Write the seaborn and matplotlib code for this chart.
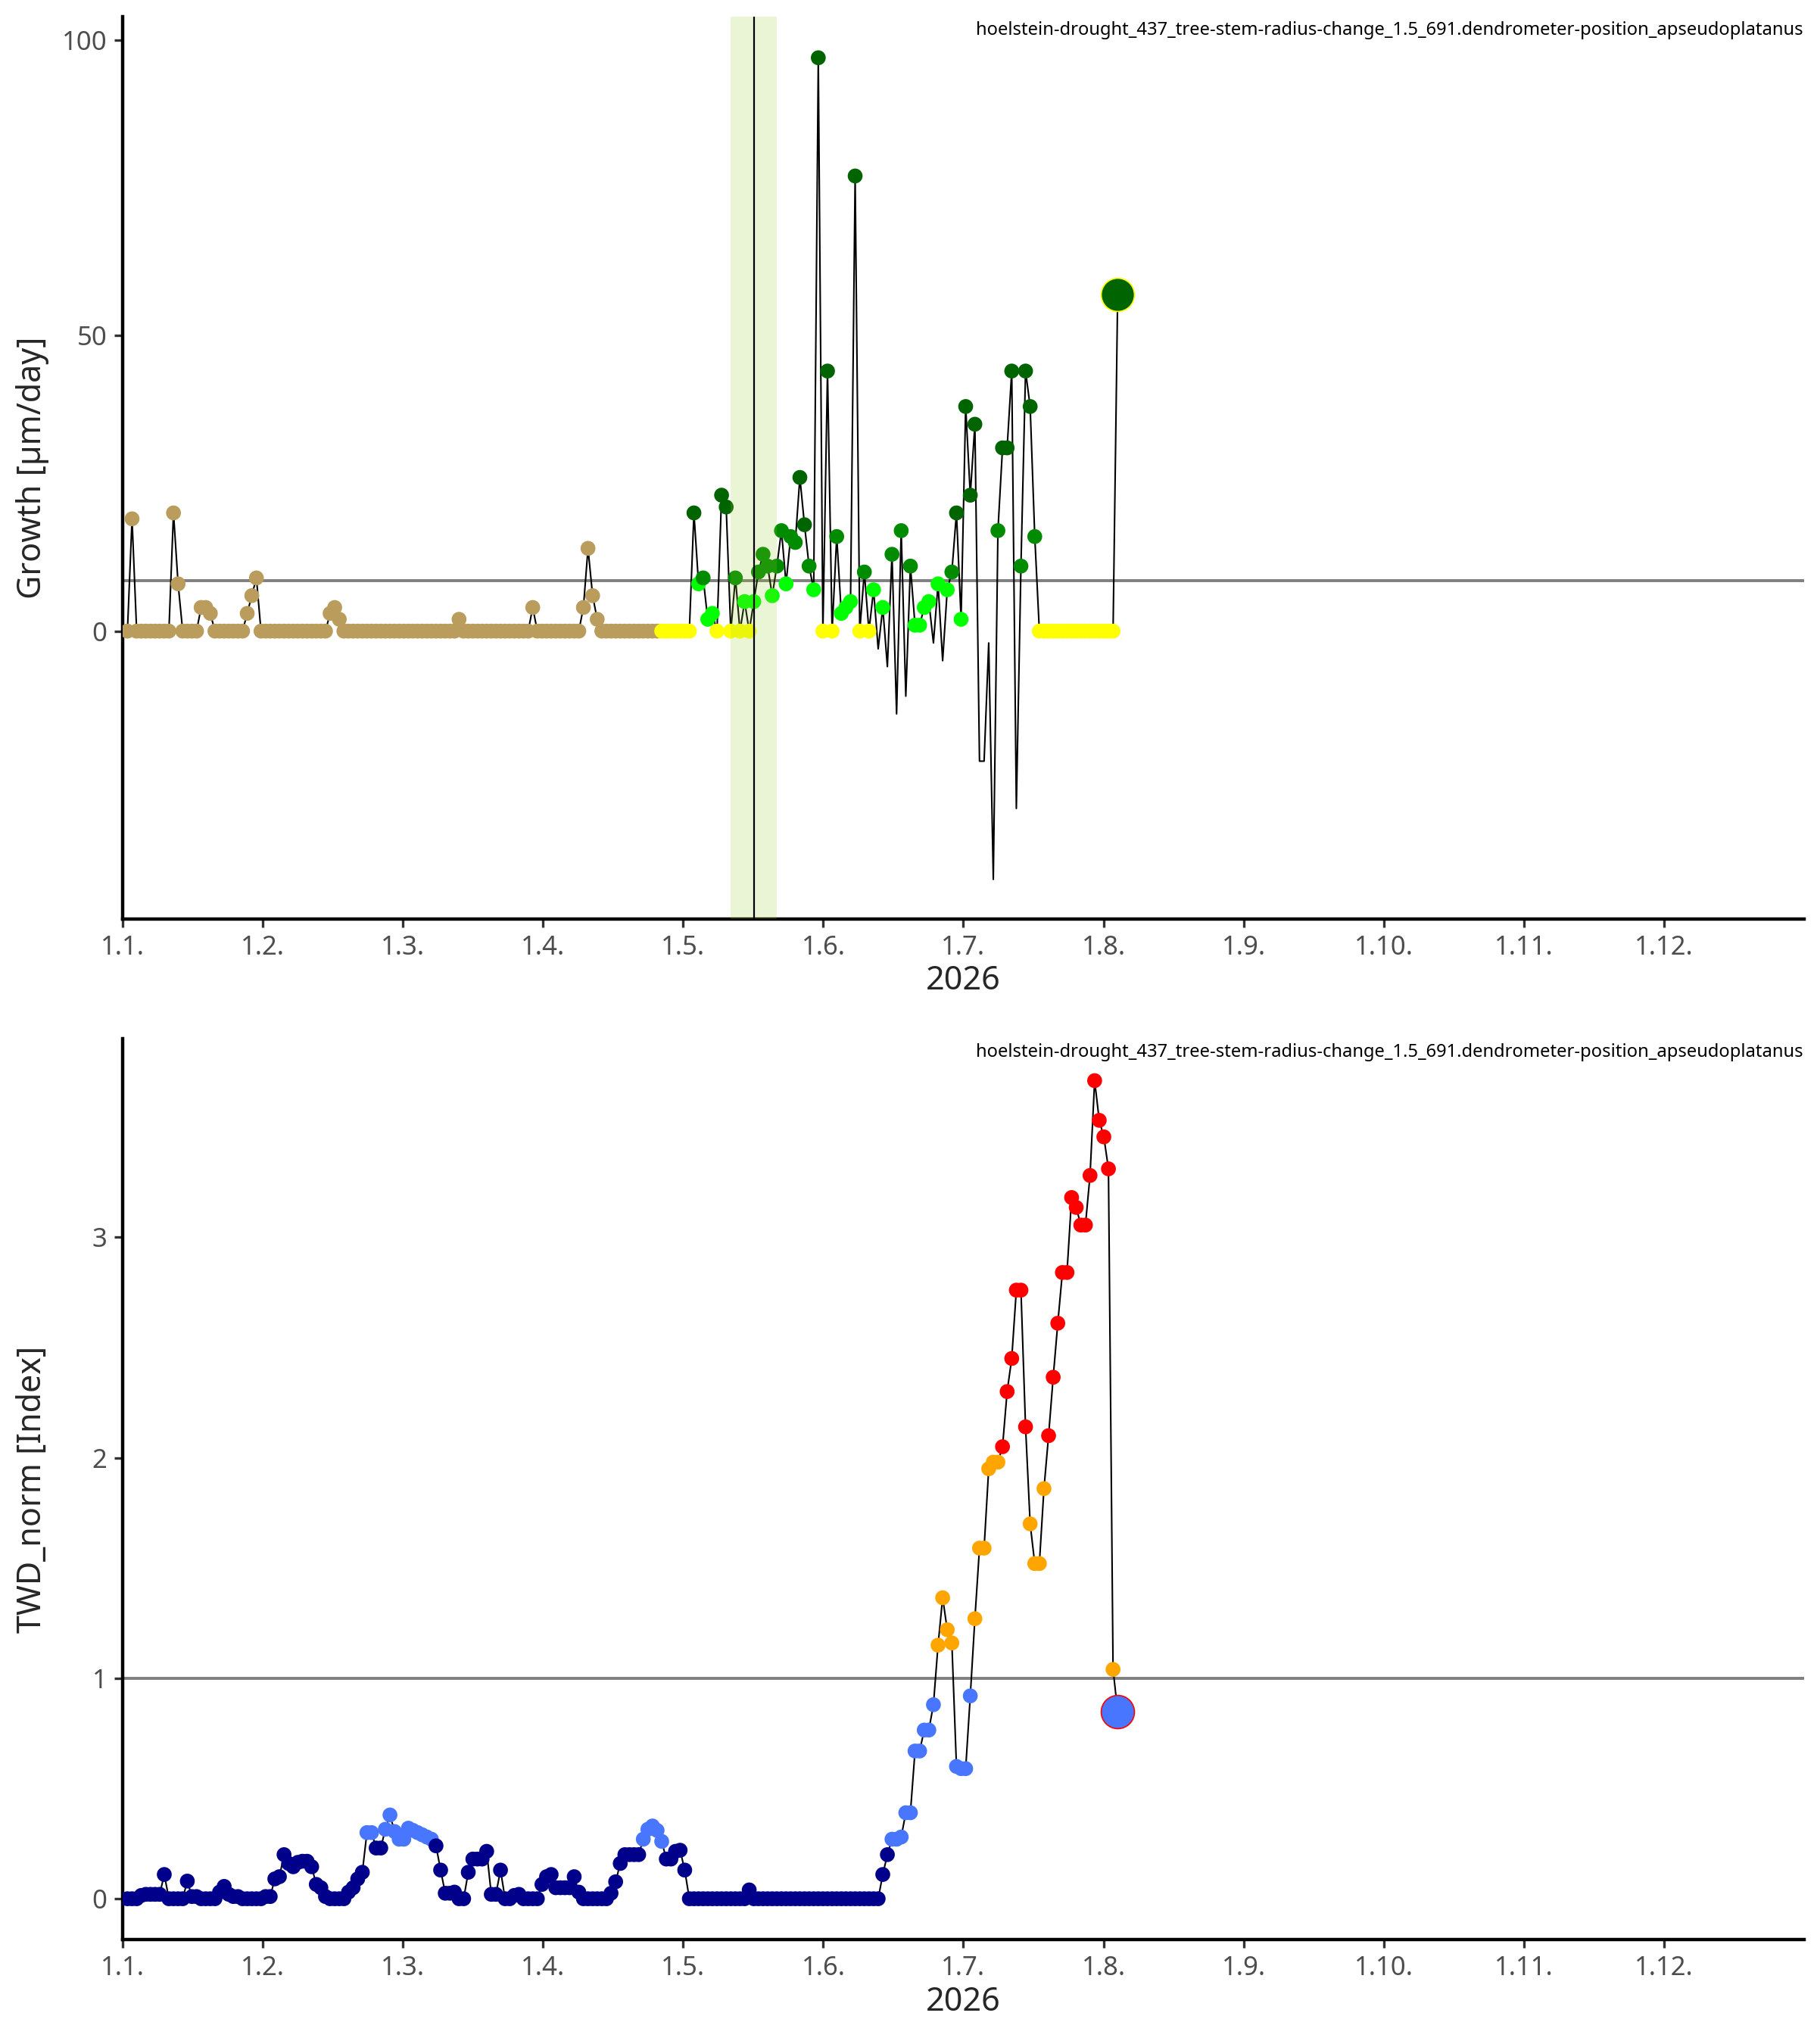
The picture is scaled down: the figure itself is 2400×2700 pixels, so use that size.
import numpy as np
import pandas as pd
import seaborn as sns
import matplotlib.pyplot as plt

sns.set_style("ticks")
plt.rcParams['font.family'] = ['Noto Sans', 'DejaVu Sans']

sensor = "hoelstein-drought_437_tree-stem-radius-change_1.5_691.dendrometer-position_apseudoplatanus"
dates = pd.date_range("2026-01-01", "2026-08-04", freq="D")

# daily growth in um/day
growth = [
    0, 19, 0, 0, 0, 0, 0, 0, 0, 0, 20, 8, 0, 0, 0, 0, 4, 4, 3, 0, 0, 0, 0, 0, 0, 0, 3, 6, 9, 0,
    0, 0, 0, 0, 0, 0, 0, 0, 0, 0, 0, 0, 0, 0, 3, 4, 2, 0, 0, 0, 0, 0, 0, 0, 0, 0, 0, 0, 0, 0,
    0, 0, 0, 0, 0, 0, 0, 0, 0, 0, 0, 0, 2, 0, 0, 0, 0, 0, 0, 0, 0, 0, 0, 0, 0, 0, 0, 0, 4, 0,
    0, 0, 0, 0, 0, 0, 0, 0, 0, 4, 14, 6, 2, 0, 0, 0, 0, 0, 0, 0, 0, 0, 0, 0, 0, 0, 0, 0, 0, 0,
    0, 0, 0, 20, 8, 9, 2, 3, 0, 23, 21, 0, 9, 0, 5, 0, 5, 10, 13, 11, 6, 11, 17, 8, 16, 15, 26, 18, 11, 7,
    97, 0, 44, 0, 16, 3, 4, 5, 77, 0, 10, 0, 7, -3, 4, -6, 13, -14, 17, -11, 11, 1, 1, 4, 5, -2, 8, -5, 7, 10,
    20, 2, 38, 23, 35, -22, -22, -2, -42, 17, 31, 31, 44, -30, 11, 44, 38, 16, 0, 0, 0, 0, 0, 0, 0, 0, 0, 0, 0, 0,
    0, 0, 0, 0, 0, 57,
]

# normalised tree water deficit, lower panel
twd_norm = [
    0, 0, 0, 0.015, 0.02, 0.02, 0.02, 0.02, 0.11, 0, 0, 0, 0, 0.08, 0.01, 0.01, 0, 0, 0, 0,
    0.03, 0.056, 0.02, 0.01, 0.01, 0, 0, 0, 0, 0,
    0.01, 0.01, 0.09, 0.10, 0.20, 0.16, 0.145, 0.165, 0.17, 0.17, 0.145, 0.065, 0.05, 0.01, 0, 0, 0, 0,
    0.03, 0.05, 0.09, 0.12, 0.30, 0.30, 0.23, 0.23, 0.315, 0.38, 0.305, 0.27,
    0.27, 0.32, 0.31, 0.30, 0.29, 0.28, 0.27, 0.24, 0.13, 0.025, 0.025, 0.03, 0, 0, 0.12, 0.18, 0.18, 0.18,
    0.215, 0.02, 0.02, 0.13, 0, 0, 0.015, 0.02, 0, 0, 0, 0,
    0.065, 0.10, 0.11, 0.05, 0.05, 0.05, 0.05, 0.10, 0.03, 0, 0, 0, 0, 0, 0, 0.025, 0.077, 0.16, 0.20, 0.20,
    0.20, 0.20, 0.27, 0.315, 0.33, 0.31, 0.26, 0.18, 0.18, 0.215,
    0.22, 0.13, 0, 0, 0, 0, 0, 0, 0, 0, 0, 0, 0, 0, 0, 0.04, 0, 0, 0, 0, 0, 0, 0, 0, 0, 0, 0, 0, 0, 0,
    0, 0, 0, 0, 0, 0, 0, 0, 0, 0, 0, 0, 0, 0, 0.11, 0.20, 0.27, 0.27, 0.28, 0.39, 0.39, 0.67, 0.67, 0.765,
    0.765, 0.88, 1.15, 1.365, 1.22, 1.16,
    0.60, 0.59, 0.59, 0.92, 1.27, 1.59, 1.59, 1.95, 1.98, 1.98, 2.05, 2.30, 2.45, 2.76, 2.76, 2.14, 1.70,
    1.52, 1.52, 1.86, 2.10, 2.365, 2.61, 2.84, 2.84, 3.18, 3.135, 3.055, 3.055, 3.28,
    3.71, 3.53, 3.455, 3.31, 1.04, 0.85,
]

growth_mean = 8.6      # grey reference line, upper panel
season_start = 117     # first day of growing season (day of year)
band_start, band_end, band_mid = 132, 142, 137
twd_ref = 1.0

month_labels = ["1.%d." % m for m in range(1, 13)]
month_pos = np.arange(12) * 365 / 12

growth_colors = {"off": "#BA9C5D", "none": "#FFFF00", "low": "#00FF00",
                 "mid": "#008B00", "high": "#006400"}
twd_colors = {"ok": "#00008B", "mild": "#4876FF", "moderate": "#FFA500", "severe": "#FF0000"}

df = pd.DataFrame({"doy": dates.dayofyear, "growth": growth, "twd": twd_norm})


def growth_class(row):
    if row.doy < season_start:
        return "off"
    if row.growth == 0:
        return "none"
    if row.growth < growth_mean:
        return "low"
    if row.growth < 2 * growth_mean:
        return "mid"
    return "high"


def twd_class(v):
    if v < 0.25:
        return "ok"
    if v < 1:
        return "mild"
    if v < 2:
        return "moderate"
    return "severe"


df["gclass"] = df.apply(growth_class, axis=1)
df["tclass"] = df["twd"].apply(twd_class)

fig = plt.figure(figsize=(12, 13.5), dpi=200)
ax1 = fig.add_axes([0.0676, 0.5504, 0.9252, 0.4413])
ax2 = fig.add_axes([0.0676, 0.051, 0.9252, 0.4407])

# ---- upper panel: growth
ax1.axhline(growth_mean, color="#7F7F7F", lw=1.4, zorder=1)
sns.lineplot(data=df, x="doy", y="growth", color="black", lw=0.75, ax=ax1, zorder=2)
pts = df[df.growth >= 0]
sns.scatterplot(data=pts.iloc[:-1], x="doy", y="growth", hue="gclass", palette=growth_colors,
                s=50, linewidth=0, legend=False, ax=ax1, zorder=3)
sns.scatterplot(data=df.iloc[[-1]], x="doy", y="growth", color=growth_colors["high"],
                s=250, edgecolor="#FFFF00", linewidth=0.6, legend=False, ax=ax1, zorder=3)
ax1.axvspan(band_start, band_end, color="yellowgreen", alpha=0.2, lw=0, zorder=4)
ax1.axvline(band_mid, color="black", lw=0.8, zorder=5)
ax1.set_ylim(-48.7, 103.9)
ax1.set_yticks([0, 50, 100])
ax1.set_ylabel("Growth [µm/day]", fontsize=15.5)

# ---- lower panel: TWD
ax2.axhline(twd_ref, color="#7F7F7F", lw=1.4, zorder=1)
sns.lineplot(data=df, x="doy", y="twd", color="black", lw=0.75, ax=ax2, zorder=2)
sns.scatterplot(data=df.iloc[:-1], x="doy", y="twd", hue="tclass", palette=twd_colors,
                s=50, linewidth=0, legend=False, ax=ax2, zorder=3)
sns.scatterplot(data=df.iloc[[-1]], x="doy", y="twd", color=twd_colors["mild"],
                s=250, edgecolor="#FF0000", linewidth=0.6, legend=False, ax=ax2, zorder=3)
ax2.set_ylim(-0.186, 3.899)
ax2.set_yticks([0, 1, 2, 3])
ax2.set_ylabel("TWD_norm [Index]", fontsize=15.5)

for ax in (ax1, ax2):
    ax.set_xlim(0, 365)
    ax.set_xticks(month_pos)
    ax.set_xticklabels(month_labels)
    ax.set_xlabel("2026", fontsize=15.5, labelpad=2)
    ax.yaxis.set_label_coords(-0.044, 0.5)
    ax.tick_params(labelsize=12.5, labelcolor="#4D4D4D", color="#333333", length=4, width=1.2)
    for side in ("top", "right"):
        ax.spines[side].set_visible(False)
    for side in ("left", "bottom"):
        ax.spines[side].set_linewidth(1.6)
        ax.spines[side].set_color("black")
    ax.text(0.9995, 0.995, sensor, transform=ax.transAxes, ha="right", va="top",
            fontsize=8.55, color="black")

fig.savefig("out.png", dpi=200, facecolor="white")
